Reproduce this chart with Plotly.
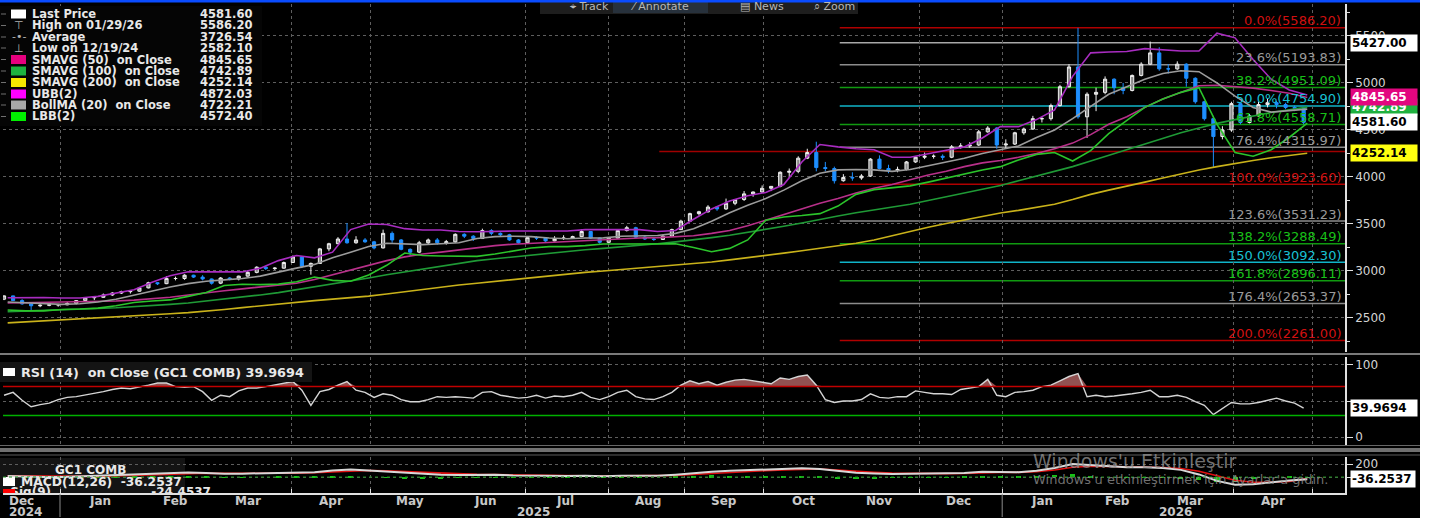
import datetime as dt
import plotly.graph_objects as go

W, H = 1432, 518
ML, MR = 3, 87
PW = W - ML - MR


def px(x):
    return (x - ML) / PW


def py(y):
    return 1 - y / H


# ---------------- data ----------------
# week anchors (Wednesdays); candles / RSI are split into Mon-Wed and Thu-Fri halves
WEEKS = [
    "2024-12-11", "2024-12-18", "2024-12-25",
    "2025-01-01", "2025-01-08", "2025-01-15", "2025-01-22", "2025-01-29",
    "2025-02-05", "2025-02-12", "2025-02-19", "2025-02-26",
    "2025-03-05", "2025-03-12", "2025-03-19", "2025-03-26",
    "2025-04-02", "2025-04-09", "2025-04-16", "2025-04-23", "2025-04-30",
    "2025-05-07", "2025-05-14", "2025-05-21", "2025-05-28",
    "2025-06-04", "2025-06-11", "2025-06-18", "2025-06-25",
    "2025-07-02", "2025-07-09", "2025-07-16", "2025-07-23", "2025-07-30",
    "2025-08-06", "2025-08-13", "2025-08-20", "2025-08-27",
    "2025-09-03", "2025-09-10", "2025-09-17", "2025-09-24",
    "2025-10-01", "2025-10-08", "2025-10-15", "2025-10-22", "2025-10-29",
    "2025-11-05", "2025-11-12", "2025-11-19", "2025-11-26",
    "2025-12-03", "2025-12-10", "2025-12-17", "2025-12-24", "2025-12-31",
    "2026-01-07", "2026-01-14", "2026-01-21", "2026-01-28",
    "2026-02-04", "2026-02-11", "2026-02-18", "2026-02-25",
    "2026-03-04", "2026-03-11", "2026-03-18", "2026-03-25",
    "2026-04-01", "2026-04-08", "2026-04-15", "2026-04-22", "2026-04-29",
]

# half-week candles (two per week, the last week has only its first half)
OPEN = [2700, 2735, 2685, 2650, 2630, 2635, 2640, 2640, 2655, 2685, 2715, 2720,
        2745, 2765, 2780, 2785, 2820, 2875, 2865, 2920, 2920, 2955, 2935, 2915,
        2870, 2925, 2915, 2945, 2985, 3040, 3025, 3030, 3090, 3150, 3050, 3080,
        3235, 3290, 3340, 3300, 3330, 3310, 3245, 3400, 3330, 3230, 3200, 3300,
        3330, 3300, 3310, 3390, 3370, 3345, 3430, 3400, 3385, 3330, 3300, 3355,
        3350, 3320, 3345, 3350, 3365, 3420, 3350, 3305, 3350, 3430, 3460, 3360,
        3340, 3335, 3370, 3440, 3530, 3610, 3630, 3680, 3660, 3720, 3760, 3820,
        3840, 3880, 3900, 4050, 4060, 4200, 4260, 4100, 4090, 3960, 3995, 3990,
        4010, 4190, 4090, 4070, 4080, 4160, 4210, 4220, 4220, 4210, 4320, 4330,
        4340, 4480, 4520, 4340, 4350, 4470, 4510, 4620, 4620, 4760, 4960, 5170,
        4640, 4880, 4900, 5040, 4950, 4920, 5080, 5200, 5320, 5150, 5150, 5200,
        5050, 4800, 4620, 4430, 4500, 4780, 4580, 4650, 4770, 4790, 4770, 4740,
        4730]
HIGH = [2740, 2738, 2700, 2660, 2645, 2660, 2650, 2670, 2690, 2720, 2725, 2760,
        2775, 2790, 2790, 2830, 2885, 2880, 2945, 2940, 2965, 2960, 2955, 2920,
        2935, 2935, 2950, 3005, 3050, 3055, 3040, 3100, 3165, 3160, 3090, 3245,
        3300, 3360, 3510, 3370, 3350, 3320, 3440, 3420, 3340, 3240, 3320, 3345,
        3350, 3330, 3400, 3400, 3380, 3450, 3445, 3410, 3395, 3340, 3360, 3370,
        3355, 3370, 3380, 3375, 3445, 3425, 3355, 3360, 3440, 3480, 3470, 3370,
        3360, 3385, 3450, 3545, 3620, 3640, 3700, 3690, 3770, 3765, 3850, 3845,
        3910, 3900, 4060, 4090, 4220, 4300, 4375, 4160, 4110, 4030, 4050, 4030,
        4200, 4230, 4130, 4110, 4170, 4220, 4260, 4240, 4240, 4340, 4360, 4370,
        4500, 4540, 4530, 4400, 4480, 4525, 4650, 4640, 4780, 4980, 5200, 5586.2,
        4900, 4950, 5070, 5050, 5000, 5090, 5220, 5440, 5380, 5200, 5230, 5210,
        5060, 4810, 4650, 4540, 4800, 4790, 4670, 4800, 4830, 4810, 4790, 4760,
        4740]
LOW = [2690, 2680, 2640, 2582.1, 2615, 2625, 2620, 2635, 2645, 2680, 2690, 2715,
       2735, 2755, 2760, 2780, 2815, 2850, 2860, 2900, 2905, 2925, 2900, 2855,
       2860, 2900, 2900, 2940, 2975, 3010, 3010, 3025, 3085, 3030, 2960, 3075,
       3210, 3285, 3290, 3290, 3300, 3230, 3240, 3300, 3220, 3160, 3190, 3280,
       3280, 3280, 3300, 3350, 3320, 3340, 3380, 3370, 3320, 3290, 3290, 3330,
       3310, 3315, 3330, 3340, 3360, 3340, 3290, 3295, 3345, 3420, 3350, 3330,
       3320, 3330, 3360, 3435, 3525, 3590, 3620, 3640, 3650, 3700, 3745, 3790,
       3830, 3850, 3890, 3990, 4040, 4190, 4060, 4060, 3930, 3950, 3960, 3970,
       4000, 4080, 4040, 4050, 4070, 4150, 4190, 4195, 4180, 4200, 4300, 4310,
       4330, 4470, 4300, 4300, 4340, 4450, 4500, 4580, 4600, 4750, 4950, 4620,
       4415, 4700, 4880, 4880, 4880, 4910, 5070, 5190, 5130, 5100, 5140, 4960,
       4780, 4600, 4106, 4400, 4480, 4560, 4570, 4640, 4740, 4730, 4720, 4700,
       4560]
CLOSE = [2735, 2685, 2650, 2630, 2635, 2640, 2640, 2655, 2685, 2715, 2720, 2745,
         2765, 2780, 2785, 2820, 2875, 2865, 2920, 2920, 2955, 2935, 2915, 2870,
         2925, 2915, 2945, 2985, 3040, 3025, 3030, 3090, 3150, 3050, 3080, 3235,
         3290, 3340, 3300, 3330, 3310, 3245, 3400, 3330, 3230, 3200, 3300, 3330,
         3300, 3310, 3390, 3370, 3345, 3430, 3400, 3385, 3330, 3300, 3355, 3350,
         3320, 3345, 3350, 3365, 3420, 3350, 3305, 3350, 3430, 3460, 3360, 3340,
         3335, 3370, 3440, 3530, 3610, 3630, 3680, 3660, 3720, 3760, 3820, 3840,
         3880, 3900, 4050, 4060, 4200, 4260, 4100, 4090, 3960, 3995, 3990, 4010,
         4190, 4090, 4070, 4080, 4160, 4210, 4220, 4220, 4210, 4320, 4330, 4340,
         4480, 4520, 4340, 4350, 4470, 4510, 4620, 4620, 4760, 4960, 5170, 4640,
         4880, 4900, 5040, 4950, 4920, 5080, 5200, 5320, 5150, 5150, 5200, 5050,
         4800, 4620, 4430, 4500, 4780, 4580, 4650, 4770, 4790, 4770, 4740, 4730,
         4581.6]

# RSI(14), half-week samples
RSI = [58, 62, 51, 42, 45, 47, 52, 55, 56, 58, 60, 63,
       66, 68, 67, 69, 72, 75, 75, 70, 69, 70, 63, 51,
       58, 56, 64, 68, 68, 70, 72, 75, 77, 65, 44, 63,
       66, 72, 77, 65, 62, 55, 60, 58, 52, 49, 49, 52,
       56, 55, 56, 55, 54, 62, 63, 58, 56, 54, 55, 58,
       54, 57, 56, 58, 62, 55, 52, 56, 62, 65, 56, 53,
       52, 56, 62, 72, 78, 74, 77, 72, 76, 79, 80, 78,
       76, 74, 82, 80, 84, 86, 72, 52, 48, 50, 50, 52,
       60, 55, 54, 56, 56, 64, 62, 60, 60, 59, 66, 68,
       70, 80, 58, 56, 62, 63, 65, 70, 72, 78, 84, 88,
       56, 58, 56, 57, 58, 60, 62, 65, 56, 56, 58, 55,
       49, 44, 31, 39, 48, 46, 46, 48, 51, 54, 50, 47,
       39.9694]

# weekly overlays
SMA50 = [2660, 2662, 2665, 2668, 2670, 2672, 2680, 2690, 2705, 2720, 2745, 2770,
         2790, 2810, 2830, 2850, 2870, 2910, 2960, 3010, 3060, 3110, 3150, 3180,
         3200, 3225, 3250, 3270, 3285, 3295, 3305, 3310, 3318, 3330, 3342, 3350,
         3355, 3365, 3375, 3400, 3430, 3480, 3540, 3600, 3660, 3720, 3770, 3830,
         3880, 3920, 3970, 4020, 4060, 4110, 4150, 4175, 4210, 4250, 4300, 4360,
         4450, 4560, 4640, 4740, 4830, 4900, 4970, 4975, 4960, 4945, 4920, 4890, 4845.65]
SMA100 = [2567, 2572, 2578, 2585, 2592, 2600, 2608, 2618, 2630, 2645, 2660, 2680,
          2700, 2720, 2745, 2770, 2800, 2830, 2860, 2890, 2925, 2960, 2990, 3020,
          3050, 3080, 3110, 3130, 3150, 3170, 3190, 3210, 3225, 3240, 3255, 3270,
          3290, 3310, 3330, 3355, 3380, 3410, 3440, 3475, 3510, 3550, 3585, 3620,
          3650, 3680, 3710, 3750, 3790, 3830, 3870, 3910, 3960, 4010, 4060, 4110,
          4170, 4230, 4290, 4350, 4410, 4470, 4520, 4570, 4610, 4650, 4685, 4715, 4742.89]
SMA200 = [2448, 2458, 2468, 2478, 2488, 2498, 2508, 2520, 2532, 2545, 2557, 2570,
          2590, 2610, 2630, 2650, 2668, 2685, 2700, 2715, 2732, 2755, 2780, 2805,
          2830, 2850, 2870, 2890, 2908, 2925, 2945, 2965, 2985, 3000, 3015, 3030,
          3045, 3060, 3075, 3095, 3118, 3140, 3165, 3190, 3215, 3240, 3265, 3295,
          3330, 3375, 3425, 3465, 3505, 3545, 3580, 3617, 3645, 3675, 3710, 3760,
          3815, 3860, 3900, 3945, 3990, 4035, 4075, 4110, 4145, 4175, 4205, 4230, 4252.14]
UBB = [2715, 2718, 2718, 2712, 2712, 2730, 2765, 2800, 2880, 2950, 2992, 2990,
       2985, 2990, 3030, 3110, 3165, 3140, 3200, 3440, 3500, 3495, 3450, 3436,
       3436, 3420, 3418, 3425, 3425, 3425, 3425, 3425, 3440, 3440, 3440, 3440,
       3420, 3430, 3550, 3660, 3745, 3800, 3835, 3920, 4160, 4345, 4320, 4300,
       4290, 4210, 4210, 4250, 4285, 4320, 4415, 4535, 4535, 4610, 4713, 5070,
       5320, 5330, 5335, 5365, 5350, 5340, 5340, 5530, 5480, 5250, 5040, 4925, 4872.03]
BOLLMA = [2670, 2660, 2650, 2645, 2652, 2670, 2700, 2745, 2790, 2830, 2865, 2890,
          2905, 2920, 2945, 2990, 3030, 3070, 3140, 3200, 3260, 3295, 3290, 3280,
          3290, 3300, 3345, 3365, 3370, 3365, 3350, 3342, 3350, 3352, 3370, 3375,
          3378, 3400, 3450, 3530, 3620, 3700, 3770, 3860, 3960, 4040, 4075, 4080,
          4075, 4060, 4080, 4120, 4160, 4200, 4250, 4290, 4330, 4420, 4500, 4620,
          4750, 4880, 4960, 5040, 5100, 5130, 5120, 5000, 4860, 4740, 4690, 4705, 4722.21]
LBB = [2585, 2575, 2575, 2590, 2595, 2605, 2630, 2665, 2680, 2692, 2730, 2770,
       2845, 2858, 2855, 2860, 2885, 2935, 2900, 2890, 2957, 3060, 3191, 3165,
       3160, 3155, 3155, 3180, 3210, 3245, 3259, 3259, 3270, 3287, 3287, 3290,
       3295, 3290, 3250, 3205, 3240, 3330, 3540, 3575, 3590, 3610, 3690, 3815,
       3865, 3885, 3905, 3945, 3990, 4035, 4075, 4110, 4180, 4240, 4260, 4170,
       4280, 4460, 4600, 4740, 4830, 4900, 4950, 4560, 4260, 4220, 4290, 4420, 4572.40]

MACD = [15, 5, 0, 0, 10, 20, 30, 40, 55, 65, 70, 60,
        50, 52, 55, 62, 65, 75, 100, 115, 100, 85, 60, 45,
        35, 32, 35, 35, 25, 20, 15, 15, 18, 12, 20, 20,
        18, 35, 60, 80, 95, 105, 110, 120, 135, 125, 90, 65,
        55, 45, 50, 52, 50, 60, 80, 75, 75, 95, 140, 200,
        180, 165, 150, 150, 140, 110, 40, -60, -120, -110, -80, -55, -36.2537]
SIGNAL = [20, 16, 12, 8, 7, 10, 16, 24, 34, 45, 55, 58,
          56, 55, 55, 57, 60, 66, 80, 95, 100, 95, 82, 68,
          55, 45, 40, 37, 32, 27, 22, 18, 18, 15, 17, 18,
          18, 25, 38, 55, 72, 86, 97, 108, 120, 123, 108, 88,
          72, 60, 55, 53, 52, 55, 66, 70, 72, 82, 108, 150,
          165, 165, 158, 154, 147, 130, 90, 20, -50, -80, -80, -68, -24.4537]
HIST = [-5, -11, -12, -8, 3, 10, 14, 16, 21, 20, 15, 2,
        -6, -3, 0, 5, 5, 9, 20, 20, 0, -10, -22, -23,
        -20, -13, -5, -2, -7, -7, -7, -3, 0, -3, 3, 2,
        0, 10, 22, 25, 23, 19, 13, 12, 15, 2, -18, -23,
        -17, -15, -5, -1, -2, 5, 14, 5, 3, 13, 32, 50,
        15, 0, -8, -4, -7, -20, -50, -80, -70, -30, 0, 13, -12]

FIB_PCT = ["0.0%", "23.6%", "38.2%", "50.0%", "61.8%", "76.4%", "100.0%",
           "123.6%", "138.2%", "150.0%", "161.8%", "176.4%", "200.0%"]
FIB_VAL = [5586.20, 5193.83, 4951.09, 4754.90, 4558.71, 4315.97, 3923.60,
           3531.23, 3288.49, 3092.30, 2896.11, 2653.37, 2261.00]
FIB_START = "2025-10-30"
HLINE_GREY = 5427.00
HLINE_RED = 4270
HLINE_RED_START = "2025-08-21"

MONTH_TICKS = ["2025-01-01", "2025-02-01", "2025-03-01", "2025-04-01", "2025-05-01",
               "2025-06-01", "2025-07-01", "2025-08-01", "2025-09-01", "2025-10-01",
               "2025-11-01", "2025-12-01", "2026-01-01", "2026-02-01", "2026-03-01",
               "2026-04-01", "2026-05-01"]
MONTH_LABELS = ["Jan", "Feb", "Mar", "Apr", "May", "Jun", "Jul", "Aug", "Sep", "Oct",
                "Nov", "Dec", "Jan", "Feb", "Mar", "Apr"]
X_RANGE = ["2024-12-10 05:00", "2026-05-13 23:00"]

# ---------------- positions ----------------
FONT = "DejaVu Sans"
GRID = "#5e5e5e"
WX = [d + " 12:00" for d in WEEKS]
CX = []
for d in WEEKS:
    wed = dt.datetime.strptime(d, "%Y-%m-%d")
    CX.append((wed - dt.timedelta(hours=12)).strftime("%Y-%m-%d %H:%M"))   # Mon-Wed half
    CX.append((wed + dt.timedelta(days=2)).strftime("%Y-%m-%d %H:%M"))     # Thu-Fri half
CX = CX[:len(CLOSE)]

fig = go.Figure()

ma_lines = [
    (SMA200, "#c9b21a"), (SMA100, "#1f9a36"), (SMA50, "#b8308a"),
    (LBB, "#2bc42b"), (BOLLMA, "#9c9c9c"), (UBB, "#a82cc0"),
]
for arr, col in ma_lines:
    fig.add_trace(go.Scatter(x=WX, y=arr, mode="lines", line=dict(color=col, width=1.6),
                             xaxis="x", yaxis="y", hoverinfo="skip", showlegend=False))

fig.add_trace(go.Candlestick(
    x=CX, open=OPEN, high=HIGH, low=LOW, close=CLOSE,
    increasing=dict(line=dict(color="#f0f0f0", width=1), fillcolor="#8a8a8a"),
    decreasing=dict(line=dict(color="#1e8fff", width=1), fillcolor="#1e8fff"),
    whiskerwidth=0, xaxis="x", yaxis="y", hoverinfo="skip", showlegend=False))

# RSI panel
RSI_HI = [max(v, 70) for v in RSI]
fig.add_trace(go.Scatter(x=CX, y=[70] * len(CX), mode="lines", line=dict(width=0, color="rgba(0,0,0,0)"),
                         xaxis="x2", yaxis="y2", hoverinfo="skip", showlegend=False))
fig.add_trace(go.Scatter(x=CX, y=RSI_HI, mode="lines", line=dict(width=0, color="rgba(0,0,0,0)"),
                         fill="tonexty", fillcolor="rgba(170,95,95,0.85)",
                         xaxis="x2", yaxis="y2", hoverinfo="skip", showlegend=False))
fig.add_trace(go.Scatter(x=CX, y=RSI, mode="lines", line=dict(color="#d4d4d4", width=1.4),
                         xaxis="x2", yaxis="y2", hoverinfo="skip", showlegend=False))

# MACD panel
fig.add_trace(go.Bar(x=WX, y=HIST, marker=dict(color="#19c019", line=dict(width=0)), width=1.2e8,
                     xaxis="x3", yaxis="y3", hoverinfo="skip", showlegend=False))
fig.add_trace(go.Scatter(x=WX, y=SIGNAL, mode="lines", line=dict(color="#e01010", width=1.6),
                         xaxis="x3", yaxis="y3", hoverinfo="skip", showlegend=False))
fig.add_trace(go.Scatter(x=WX, y=MACD, mode="lines", line=dict(color="#d8d8d8", width=2),
                         xaxis="x3", yaxis="y3", hoverinfo="skip", showlegend=False))
# cut-off "Sig(9)" legend row, clipped by the bottom of the MACD panel
fig.add_trace(go.Scatter(x=["2024-12-12 06:00"], y=[-250], mode="text",
                         text=["<b>Sig(9)" + "\u00a0" * 24 + "-24.4537</b>"],
                         textfont=dict(family=FONT, size=12, color="#e8e8e8"), textposition="middle right",
                         cliponaxis=True, xaxis="x3", yaxis="y3", hoverinfo="skip", showlegend=False))

shapes = []
annotations = []


def ann(text, x, y, size=11, color="#e8e8e8", xanchor="left", yanchor="middle", bold=False, **kw):
    if bold:
        text = "<b>" + text + "</b>"
    annotations.append(dict(text=text, x=px(x), y=py(y), xref="paper", yref="paper",
                             xanchor=xanchor, yanchor=yanchor, showarrow=False,
                             font=dict(family=FONT, size=size, color=color), **kw))


def rect(x0, y0, x1, y1, color, line=None, layer="above"):
    shapes.append(dict(type="rect", xref="paper", yref="paper", x0=px(x0), x1=px(x1),
                       y0=py(y0), y1=py(y1), fillcolor=color,
                       line=dict(width=0) if line is None else line, layer=layer))


def hline_px(y, x0, x1, color, width=1):
    shapes.append(dict(type="line", xref="paper", yref="paper", x0=px(x0), x1=px(x1),
                       y0=py(y), y1=py(y), line=dict(color=color, width=width), layer="above"))


# Fibonacci levels
FIB_COLORS = ["#b00000", "#8c8c8c", "#109a10", "#10b4c8", "#109a10", "#8c8c8c", "#b00000",
              "#8c8c8c", "#109a10", "#10b4c8", "#109a10", "#8c8c8c", "#b00000"]
FIB_TXT = ["#d01010", "#9a9a9a", "#18c018", "#18c0d4", "#18c018", "#9a9a9a", "#d01010",
           "#9a9a9a", "#18c018", "#18c0d4", "#18c018", "#9a9a9a", "#d01010"]
for pct, val, lc, tc in zip(FIB_PCT, FIB_VAL, FIB_COLORS, FIB_TXT):
    shapes.append(dict(type="line", xref="x", yref="y", x0=FIB_START, x1=X_RANGE[1], y0=val, y1=val,
                       line=dict(color=lc, width=1.5), layer="below"))
    annotations.append(dict(text=f"{pct}({val:.2f})", x=px(1343), y=val, xref="paper", yref="y",
                            xanchor="right", yanchor="middle", yshift=7, showarrow=False,
                            font=dict(family=FONT, size=13, color=tc)))
shapes.append(dict(type="line", xref="x", yref="y", x0=FIB_START, x1=X_RANGE[1], y0=HLINE_GREY,
                   y1=HLINE_GREY, line=dict(color="#a8a8a8", width=1.5), layer="below"))
shapes.append(dict(type="line", xref="x", yref="y", x0=HLINE_RED_START, x1=X_RANGE[1], y0=HLINE_RED,
                   y1=HLINE_RED, line=dict(color="#a00000", width=1.5), layer="below"))

# right side value tags
TAGS = [(HLINE_GREY, "5427.00", "#ffffff", "#000000", "y"),
        (SMA100[-1], "4742.89", "#1fb13f", "#ffffff", "y"),
        (SMA50[-1], "4845.65", "#e2067f", "#ffffff", "y"),
        (CLOSE[-1], "4581.60", "#ffffff", "#000000", "y"),
        (SMA200[-1], "4252.14", "#ffff10", "#000000", "y"),
        (RSI[-1], "39.9694", "#ffffff", "#000000", "y2"),
        (MACD[-1], "-36.2537", "#ffffff", "#000000", "y3")]
for val, txt, bg, fg, yr in TAGS:
    annotations.append(dict(text="<b>" + txt + "</b>", x=px(1350), y=val, xref="paper", yref=yr,
                            xanchor="left", yanchor="middle", showarrow=False, bgcolor=bg,
                            borderpad=1, width=64 if yr != "y3" else 62, align="left",
                            font=dict(family=FONT, size=12, color=fg)))

# main legend box
rect(0, 6, 262, 126, "#050505")
LEG = [("Last Price", "4581.60", "#ffffff"), ("High on 01/29/26", "5586.20", None),
       ("Average", "3726.54", None), ("Low on 12/19/24", "2582.10", None),
       ("SMAVG (50)\u00a0\u00a0on Close", "4845.65", "#e6007e"),
       ("SMAVG (100)\u00a0\u00a0on Close", "4742.89", "#1db33f"),
       ("SMAVG (200)\u00a0\u00a0on Close", "4252.14", "#f5e800"),
       ("UBB(2)", "4872.03", "#ff00ff"),
       ("BollMA (20)\u00a0\u00a0on Close", "4722.21", "#a8a8a8"),
       ("LBB(2)", "4572.40", "#00f000")]
SYMS = {1: "\u22a4", 2: "-\u2022-", 3: "\u22a5"}
ROW_Y = [14, 25.5, 37, 48, 59.5, 71, 82.5, 94, 105, 116.5]
for i, ((label, val, sw), yy) in enumerate(zip(LEG, ROW_Y)):
    if sw:
        rect(11, yy - 4.5, 26, yy + 4.5, sw)
    else:
        ann(SYMS[i], 18.5, yy, size=11, color="#b0b0b0", xanchor="center")
    ann(label, 30, yy, size=11.5, bold=True)
    ann(val, 254, yy, size=11.5, bold=True, xanchor="right")
    hline_px(yy, 1, 6, "#707070", 1)

# RSI legend
rect(0, 362, 312, 382, "#141414")
rect(3, 368, 15, 376, "#ffffff")
ann("RSI (14)\u00a0\u00a0on Close (GC1 COMB) 39.9694", 19, 372, size=12.8, bold=True)

# MACD legend
rect(0, 458, 185, 493, "#141414", layer="below")
ann("GC1 COMB", 90, 470, size=12, bold=True, xanchor="center")
rect(3, 477, 15, 486, "#ffffff")
ann("MACD(12,26)\u00a0\u00a0-36.2537", 19, 481.5, size=12.3, bold=True)
rect(3, 489, 15, 493, "#ff0000")

# separators between panels
hline_px(354, 0, 1420, "#7a7a7a", 2)
hline_px(445.5, 0, 1420, "#666666", 1)
rect(0, 448, 1420, 452, "#707070")
hline_px(455, 0, 1420, "#5a5a5a", 1)

# month and year labels
for i, lab in enumerate(MONTH_LABELS):
    mid = MONTH_TICKS[i][:8] + "16"
    annotations.append(dict(text="<b>" + lab + "</b>", x=mid, y=py(501), xref="x3", yref="paper",
                            xanchor="center", yanchor="middle", showarrow=False,
                            font=dict(family=FONT, size=12, color="#c8c8c8")))
ann("Dec", 7, 501, size=12, color="#c8c8c8", bold=True)
ann("2024", 7, 512, size=12, color="#c8c8c8", bold=True)
ann("2025", 533, 512, size=12, color="#c8c8c8", bold=True, xanchor="center")
ann("2026", 1175, 512, size=12, color="#c8c8c8", bold=True, xanchor="center")
for d in ["2025-01-01", "2026-01-01"]:
    shapes.append(dict(type="line", xref="x3", yref="paper", x0=d, x1=d, y0=py(517), y1=py(494),
                       line=dict(color="#8a8a8a", width=1), layer="above"))

# toolbar on top
rect(540, 0, 858, 14, "#1e1e1e")
rect(613, 1, 708, 13, "#27313c")
for txt, xx in [("\u2316 Track", 568), ("\u2044 Annotate", 628), ("\u25a4 News", 738), ("\u2315 Zoom", 812)]:
    ann(txt, xx, 7, size=11, color="#b8b8b8")

# top blue border and white right edge
rect(0, 0, 1420, 2.5, "#0a4cff")
rect(1420, 0, 1432, 518, "#ffffff")

# windows watermark
ann("Windows'u Etkinleştir", 1031, 461, size=19, color="rgba(150,150,150,0.75)")
ann("Windows'u etkinleştirmek için Ayarlar'a gidin.", 1031, 479, size=13,
    color="rgba(150,150,150,0.75)")

axis_common = dict(range=X_RANGE, type="date", rangebreaks=[dict(bounds=["sat", "mon"])],
                   tickmode="array", tickvals=MONTH_TICKS, showticklabels=False,
                   showgrid=True, gridcolor=GRID, griddash="dot", gridwidth=1,
                   zeroline=False, showline=False, fixedrange=True)
yfont = dict(family=FONT, size=12, color="#d4d4d4")

fig.update_layout(
    width=W, height=H, margin=dict(l=ML, r=MR, t=0, b=0),
    paper_bgcolor="#000000", plot_bgcolor="#000000",
    showlegend=False, hovermode=False, boxgap=0.5, bargap=0,
    xaxis=dict(domain=[0, 1], anchor="y", rangeslider=dict(visible=False), **axis_common),
    xaxis2=dict(domain=[0, 1], anchor="y2", matches="x", **axis_common),
    xaxis3=dict(domain=[0, 1], anchor="y3", matches="x", ticks="inside", ticklen=4,
                tickcolor="#e0e0e0", **{k: v for k, v in axis_common.items() if k != "showline"},
                showline=True, linecolor="#e0e0e0", linewidth=1.5),
    yaxis=dict(domain=[py(352), py(4)], range=[2138, 5840], side="right", anchor="x",
               tickmode="linear", tick0=0, dtick=500, ticks="outside", ticklen=6,
               tickcolor="#e0e0e0", tickfont=yfont, showline=True, linecolor="#e0e0e0",
               linewidth=1.5, showgrid=True, gridcolor=GRID, griddash="dot", zeroline=False,
               minor=dict(dtick=250, tick0=0, ticks="outside", ticklen=3, tickcolor="#e0e0e0",
                          showgrid=False), fixedrange=True),
    yaxis2=dict(domain=[py(445), py(357)], range=[-11.1, 111.1], side="right", anchor="x2",
                tickmode="array", tickvals=[0, 50, 100], ticktext=["0", "", "100"],
                ticks="outside", ticklen=6,
                tickcolor="#e0e0e0", tickfont=yfont, showline=True, linecolor="#e0e0e0",
                linewidth=1.5, showgrid=True, gridcolor=GRID, griddash="dot", zeroline=False,
                fixedrange=True),
    yaxis3=dict(domain=[py(493), py(457)], range=[-246, 308], side="right", anchor="x3",
                tickmode="array", tickvals=[0, 200], ticktext=["", "200"], ticks="outside", ticklen=6,
                tickcolor="#e0e0e0", tickfont=yfont, showline=True, linecolor="#e0e0e0",
                linewidth=1.5, showgrid=True, gridcolor=GRID, griddash="dot", zeroline=False,
                fixedrange=True),
    shapes=shapes, annotations=annotations,
)

fig.add_hline(y=70, line=dict(color="#c00000", width=1.5), xref="x2", yref="y2")
fig.add_hline(y=30, line=dict(color="#00b000", width=1.5), xref="x2", yref="y2")
fig.add_hline(y=0, line=dict(color="#1a8a1a", width=1, dash="dot"), xref="x3", yref="y3")

fig.write_html("out.html", config={"displayModeBar": False},
               post_script="document.body.style.margin='0px';document.body.style.overflow='hidden';")
